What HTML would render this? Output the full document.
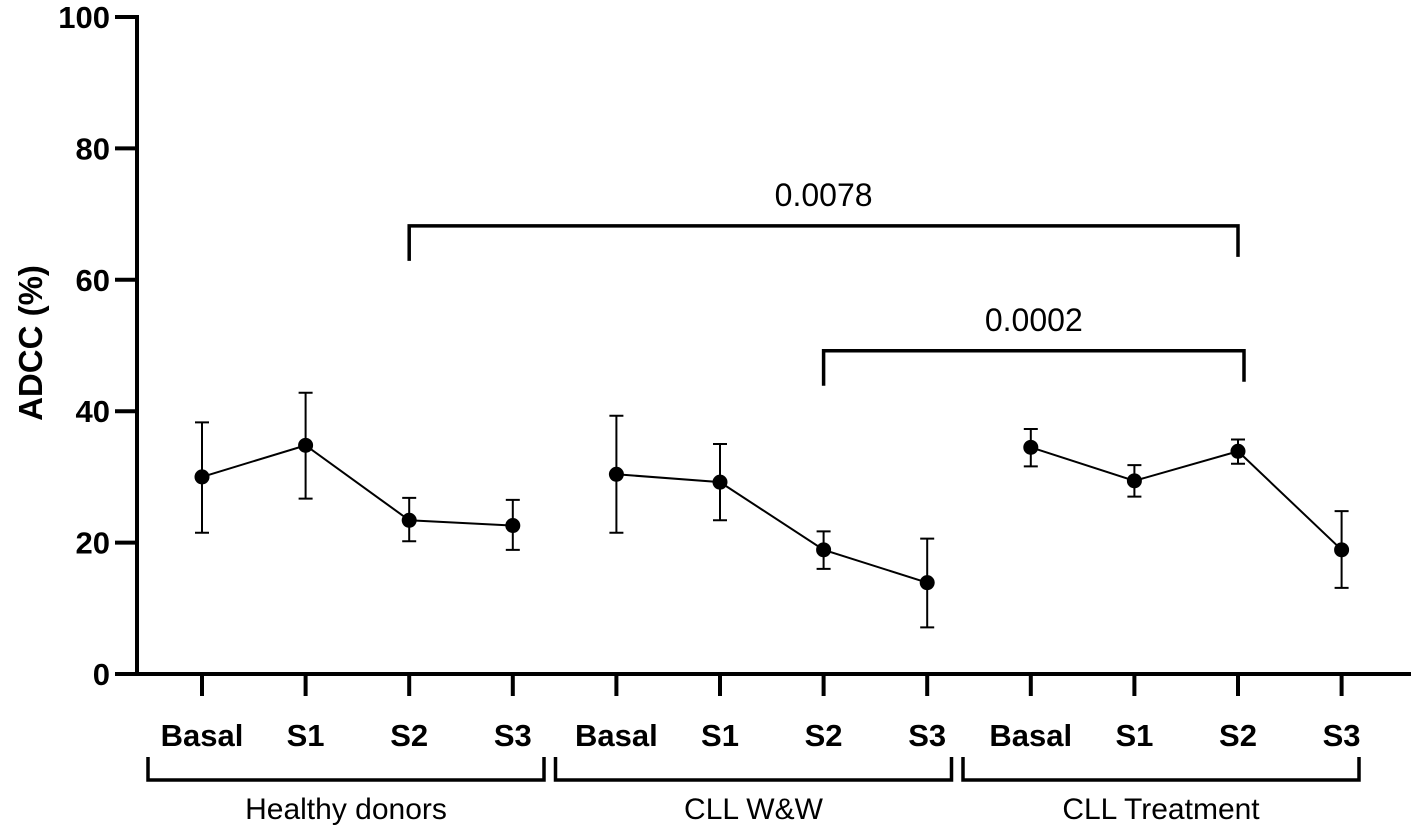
<!DOCTYPE html>
<html><head><meta charset="utf-8"><style>
html,body{margin:0;padding:0;background:#fff;}
svg{display:block;font-family:"Liberation Sans",Arial,sans-serif;}
</style></head><body>
<svg id="chart" width="1417" height="832" viewBox="0 0 1417 832"></svg>
<script>
const categories = ["Basal","S1","S2","S3","Basal","S1","S2","S3","Basal","S1","S2","S3"];
const groups = ["Healthy donors","CLL W&W","CLL Treatment"];
const meanValues = [30.0,34.8,23.4,22.6, 30.4,29.2,18.9,13.9, 34.5,29.4,33.9,18.9];
const lowerValues = [21.5,26.7,20.2,18.9, 21.5,23.4,16.0,7.1, 31.6,27.0,32.0,13.1];
const upperValues = [38.3,42.8,26.8,26.5, 39.3,35.0,21.7,20.6, 37.3,31.8,35.7,24.8];
const yTicks = [0,20,40,60,80,100];
const comparisons = [{from:2,to:10,label:"0.0078",level:68.2},{from:6,to:10,label:"0.0002",level:49.2}];

const svg = document.getElementById('chart');
const NS = 'http://www.w3.org/2000/svg';
const y0 = 674, y100 = 17;
const yScale = v => y0 - (v/100)*(y0-y100);
const xScale = i => 202 + i*103.6;
function mk(tag, attrs, parent){
  const e = document.createElementNS(NS, tag);
  for (const k in attrs) e.setAttribute(k, attrs[k]);
  (parent||svg).appendChild(e);
  return e;
}
const yAxis = mk('line',{x1:137,y1:15,x2:137,y2:676,stroke:'#000','stroke-width':4});


const xAxis = mk('line',{x1:135,y1:674,x2:1411,y2:674,stroke:'#000','stroke-width':4});


yTicks.forEach(t=>{
  const y = yScale(t);
  const tk = mk('line',{x1:115,y1:y,x2:137,y2:y,stroke:'#000','stroke-width':4});
  
  
  const tl = mk('text',{x:110,y:y+11,'text-anchor':'end','font-size':31,'font-weight':'bold'});
  tl.textContent = t;
  
  
});
const yt = mk('text',{x:0,y:0,transform:'translate(42,343) rotate(-90)','text-anchor':'middle','font-size':33,'font-weight':'bold'});
yt.textContent = 'ADCC (%)';


categories.forEach((c,i)=>{
  const x = xScale(i);
  const tk = mk('line',{x1:x,y1:674,x2:x,y2:696,stroke:'#000','stroke-width':4});
  
  
  const tl = mk('text',{x:x,y:746,'text-anchor':'middle','font-size':31,'font-weight':'bold'});
  tl.textContent = c;
  
  
});
groups.forEach((g,gi)=>{
  const xa = 148 + gi*407.5, xb = xa + 396;
  const br = mk('path',{d:`M${xa},757 V780 H${xb} V757`,fill:'none',stroke:'#000','stroke-width':3.5});
  
  
  const gl = mk('text',{x:(xa+xb)/2,y:819,'text-anchor':'middle','font-size':30});
  gl.textContent = g;
  
  
});
for (let g=0; g<3; g++){
  const pts = [];
  for (let i=g*4;i<g*4+4;i++) pts.push(xScale(i)+','+yScale(meanValues[i]));
  const pl = mk('polyline',{points:pts.join(' '),fill:'none',stroke:'#000','stroke-width':2});
  
  
}
meanValues.forEach((v,i)=>{
  const x = xScale(i);
  const eb = mk('path',{d:`M${x},${yScale(lowerValues[i])} V${yScale(upperValues[i])} M${x-7},${yScale(lowerValues[i])} H${x+7} M${x-7},${yScale(upperValues[i])} H${x+7}`,fill:'none',stroke:'#000','stroke-width':2});
  
  
  const p = mk('circle',{cx:x,cy:yScale(v),r:7.5,fill:'#000'});
  
  
});
comparisons.forEach(c=>{
  const xa = xScale(c.from), xb = xScale(c.to)+(c.level<55?6:0), y = yScale(c.level);
  const br = mk('path',{d:`M${xa},${y+35} V${y} H${xb} V${y+31}`,fill:'none',stroke:'#000','stroke-width':3.5});
  
  
  const t = mk('text',{x:(xa+xb)/2,y:y-20,'text-anchor':'middle','font-size':32});
  t.textContent = c.label;
  
  
});
</script>
</body></html>
